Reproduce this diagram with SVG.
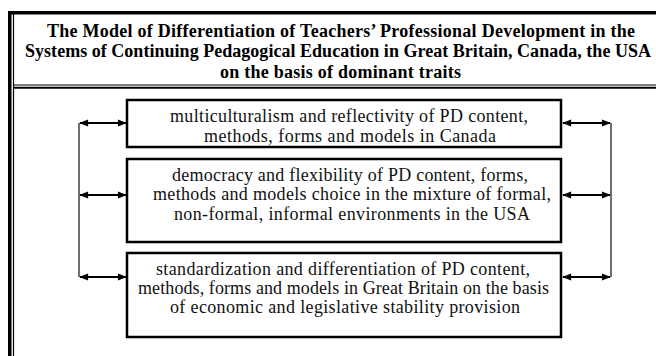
<svg xmlns="http://www.w3.org/2000/svg" width="656" height="356" viewBox="0 0 656 356">
<defs>
<style>
.title{font-family:"Liberation Serif","Times New Roman",serif;font-weight:bold;font-size:18px;fill:#000;text-anchor:middle}
.txt{font-family:"Liberation Serif","Times New Roman",serif;font-size:18px;fill:#111;text-anchor:middle}
.box{fill:#fff;stroke:#000;stroke-width:2.5}
.arr{stroke:#000;stroke-width:2;fill:none;marker-start:url(#ah);marker-end:url(#ah)}
.vl{stroke:#222;stroke-width:1.3;fill:none}
</style>
<marker id="ah" viewBox="0 0 10 10" refX="9" refY="5" markerWidth="10" markerHeight="9" orient="auto-start-reverse" markerUnits="userSpaceOnUse">
<path d="M0,1 L10,5 L0,9 z" fill="#000"/>
</marker>
</defs>
<rect width="656" height="356" fill="#fff"/>
<g id="frame">
<rect x="8" y="11" width="660" height="3.5" fill="#000"/>
<rect x="8" y="11" width="3.5" height="350" fill="#000"/>
<line x1="13.5" y1="14" x2="13.5" y2="360" stroke="#000" stroke-width="1.2"/>
<line x1="13" y1="85" x2="660" y2="85" stroke="#000" stroke-width="1"/>
<line x1="13" y1="87.8" x2="660" y2="87.8" stroke="#000" stroke-width="2"/>
</g>
<g id="title">
<text class="title" x="341" y="37" textLength="588" lengthAdjust="spacing">The Model of Differentiation of Teachers’ Professional Development in the</text>
<text class="title" x="338" y="57" textLength="626" lengthAdjust="spacing">Systems of Continuing Pedagogical Education in Great Britain, Canada, the USA</text>
<text class="title" x="340.5" y="78" textLength="241" lengthAdjust="spacing">on the basis of dominant traits</text>
</g>
<g id="connectors">
<line class="vl" x1="79" y1="123" x2="79" y2="277"/>
<line class="vl" x1="611" y1="123" x2="611" y2="277"/>
<line class="arr" x1="80" y1="123" x2="126" y2="123"/>
<line class="arr" x1="80" y1="195" x2="126" y2="195"/>
<line class="arr" x1="80" y1="277" x2="126" y2="277"/>
<line class="arr" x1="563" y1="123" x2="610" y2="123"/>
<line class="arr" x1="563" y1="195" x2="610" y2="195"/>
<line class="arr" x1="563" y1="277" x2="610" y2="277"/>
</g>
<g id="node1">
<rect class="box" x="127" y="100" width="434" height="47"/>
<text class="txt" x="349" y="122" textLength="358" lengthAdjust="spacing">multiculturalism and reflectivity of PD content,</text>
<text class="txt" x="350" y="142" textLength="292" lengthAdjust="spacing">methods, forms and models in Canada</text>
</g>
<g id="node2">
<rect class="box" x="127" y="159" width="434" height="83"/>
<text class="txt" x="350" y="181" textLength="356" lengthAdjust="spacing">democracy and flexibility of PD content, forms,</text>
<text class="txt" x="352" y="200" textLength="398" lengthAdjust="spacing">methods and models choice in the mixture of formal,</text>
<text class="txt" x="352" y="220" textLength="356" lengthAdjust="spacing">non-formal, informal environments in the USA</text>
</g>
<g id="node3">
<rect class="box" x="127" y="253" width="434" height="84"/>
<text class="txt" x="343" y="275" textLength="374" lengthAdjust="spacing">standardization and differentiation of PD content,</text>
<text class="txt" x="343.5" y="294" textLength="411" lengthAdjust="spacing">methods, forms and models in Great Britain on the basis</text>
<text class="txt" x="345" y="313" textLength="350" lengthAdjust="spacing">of economic and legislative stability provision</text>
</g>
</svg>
